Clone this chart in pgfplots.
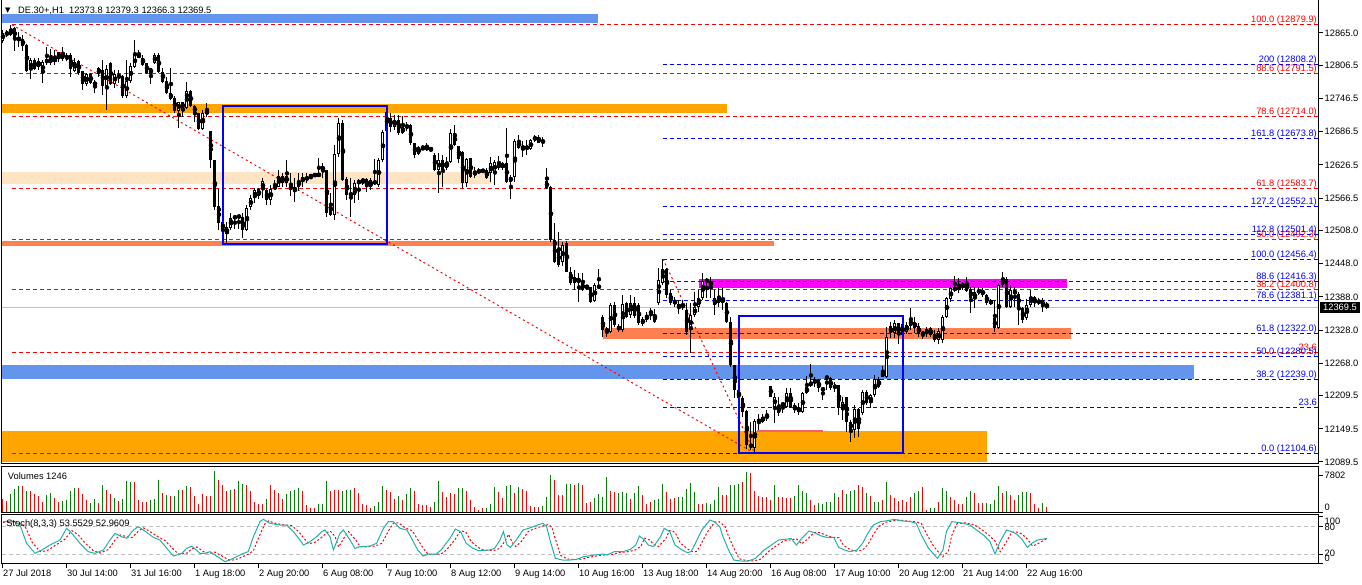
\documentclass[border=0pt]{standalone}
\usepackage{fontspec}
\setmainfont{Liberation Sans}
\newfontfamily\dejavu{DejaVu Sans}
\usepackage{pgfplots}
\usepackage{pgfplotstable}
\pgfplotsset{compat=1.18}

\definecolor{cfblue}{HTML}{6495ED}
\definecolor{mtorange}{HTML}{FFA500}
\definecolor{bisque}{HTML}{FFE4C4}
\definecolor{coral}{HTML}{FF7F50}
\definecolor{mtmag}{HTML}{FF00FF}
\definecolor{lsg}{HTML}{20B2AA}
\definecolor{mtgreen}{HTML}{008000}
\definecolor{fibblue}{HTML}{0000FF}
\definecolor{fibred}{HTML}{FF0000}
\definecolor{silver}{HTML}{C0C0C0}
\definecolor{pinkline}{HTML}{F4606E}

% label set with its digits centred dy above the tick
\newcommand{\lab}[2]{\smash{\raisebox{#1}{#2}}}

% hourly bars: open high low close volume up-volume flag
\pgfplotstableread{
o h l c v g
12851.1 12870.4 12846.9 12865.5 2873 0
12866.8 12870.4 12857.8 12861.4 2394 0
12861.4 12879.9 12859.6 12872.2 3899 1
12874.0 12876.4 12833.0 12854.1 4925 1
12856.5 12867.3 12840.2 12852.3 5609 1
12854.1 12861.4 12833.0 12842.0 5609 0
12843.8 12845.1 12794.5 12796.3 4446 1
12798.1 12819.8 12781.8 12816.2 4583 0
12816.2 12820.3 12798.1 12799.4 3899 0
12804.1 12820.3 12798.1 12814.4 3420 0
12792.7 12816.2 12774.6 12812.6 2189 0
12810.8 12840.2 12807.2 12818.0 3762 1
12811.3 12835.5 12807.2 12819.8 4104 1
12819.8 12834.3 12807.2 12812.6 3078 0
12818.5 12831.2 12812.0 12830.7 2189 0
12830.1 12840.2 12814.9 12818.0 2394 1
12818.0 12828.3 12814.9 12823.4 2599 1
12825.2 12828.3 12786.0 12799.4 4446 1
12796.8 12819.3 12795.0 12813.1 5130 1
12814.4 12816.2 12789.1 12793.2 5130 0
12796.3 12797.0 12762.0 12772.3 3899 0
12772.3 12792.7 12769.2 12790.9 2531 0
12790.3 12792.7 12772.8 12775.2 2052 1
12776.9 12780.0 12757.1 12769.7 2736 1
12802.3 12804.1 12786.0 12790.3 2052 0
12798.1 12816.2 12752.9 12769.7 5814 1
12769.2 12807.2 12725.8 12799.9 4788 0
12811.3 12812.6 12771.0 12772.3 3899 0
12772.8 12798.1 12766.1 12790.9 3078 1
12784.9 12798.1 12774.0 12789.1 2394 0
12787.3 12789.1 12747.5 12751.1 2873 1
12751.1 12816.2 12747.5 12778.2 6498 1
12778.2 12811.3 12774.0 12805.3 6293 1
12804.1 12852.3 12801.2 12825.2 6293 0
12820.3 12834.3 12819.3 12827.0 2531 0
12820.3 12825.2 12806.2 12807.2 2189 0
12810.8 12811.7 12790.3 12792.2 2189 0
12790.9 12802.6 12772.3 12801.7 2599 1
12810.2 12829.4 12808.4 12825.2 2736 1
12825.2 12828.3 12793.2 12795.0 6703 1
12795.0 12801.2 12775.2 12776.9 4104 0
12778.2 12786.0 12754.7 12756.0 3762 1
12757.1 12801.7 12743.9 12745.1 3557 0
12748.0 12751.1 12719.8 12724.0 3557 1
12724.0 12740.8 12692.7 12740.3 4788 1
12740.3 12740.8 12712.6 12727.6 4788 0
12729.9 12776.9 12727.6 12760.2 5609 1
12760.2 12762.0 12730.7 12733.0 5335 0
12733.0 12734.8 12704.7 12720.9 3420 0
12720.4 12720.9 12689.7 12690.9 1847 0
12690.9 12725.8 12689.7 12720.9 3899 0
12720.4 12737.9 12713.7 12722.2 3557 0
12687.8 12688.5 12621.0 12635.4 3420 0
12635.4 12636.0 12545.0 12551.0 8550 1
12552.3 12583.0 12508.9 12521.5 6703 0
12523.3 12527.0 12490.8 12508.9 5814 0
12501.7 12523.9 12486.0 12514.3 4446 0
12512.5 12540.2 12508.9 12530.6 4788 1
12530.6 12534.2 12510.2 12533.3 4925 0
12532.4 12536.0 12510.7 12534.2 6498 1
12532.9 12539.6 12493.9 12508.9 6019 1
12508.9 12554.1 12507.1 12548.6 5814 0
12549.9 12572.2 12545.0 12567.3 4446 0
12566.7 12584.3 12557.1 12581.2 2189 0
12583.0 12584.8 12564.9 12570.3 1710 0
12581.2 12602.3 12566.2 12598.0 1710 0
12581.2 12583.0 12554.1 12563.1 2873 1
12563.1 12590.2 12554.1 12583.0 5814 0
12584.3 12599.3 12581.2 12587.1 4651 0
12587.1 12617.3 12586.1 12606.5 4104 0
12606.5 12611.4 12587.1 12594.4 2736 0
12594.4 12635.4 12587.1 12606.5 3899 1
12590.2 12611.4 12570.3 12581.2 4583 1
12587.1 12602.3 12560.0 12578.1 4788 1
12587.1 12611.4 12579.9 12598.0 5130 1
12596.2 12611.4 12587.1 12605.2 4446 0
12599.3 12611.4 12593.3 12605.2 1505 0
12605.6 12608.3 12600.5 12607.4 1026 0
12607.4 12611.4 12605.2 12609.2 889 0
12605.2 12638.5 12604.2 12611.9 1710 1
12624.6 12630.5 12602.3 12616.1 1710 1
12617.3 12618.0 12532.9 12539.1 6498 1
12557.7 12575.2 12534.2 12536.0 4446 0
12536.0 12662.5 12527.0 12646.3 4788 0
12646.3 12710.8 12641.4 12702.3 4651 0
12701.8 12707.7 12598.0 12599.3 4583 1
12601.1 12605.2 12563.1 12572.2 4651 1
12574.9 12602.3 12532.9 12572.2 4788 1
12572.2 12599.3 12557.1 12593.3 5130 0
12593.3 12600.5 12563.1 12598.0 4104 0
12596.2 12602.3 12590.2 12600.5 1710 0
12601.1 12602.3 12578.1 12587.1 1505 0
12587.1 12602.3 12581.2 12599.3 1026 0
12593.8 12637.2 12590.2 12596.5 1368 1
12590.2 12638.5 12587.1 12635.4 2189 1
12635.4 12689.7 12632.3 12686.6 5609 1
12722.2 12733.0 12686.0 12687.8 4788 0
12710.8 12719.8 12686.6 12695.6 4241 0
12695.6 12716.8 12689.7 12707.7 2873 0
12707.7 12716.8 12680.6 12683.7 3500 1
12683.7 12715.0 12682.4 12695.6 2712 0
12698.7 12704.1 12687.8 12693.3 3812 1
12698.7 12700.5 12662.5 12665.6 5058 1
12665.6 12666.1 12639.6 12644.5 4545 0
12645.7 12660.7 12644.5 12659.5 1759 0
12654.8 12662.5 12653.5 12658.4 1613 0
12655.7 12666.7 12652.2 12657.5 1613 0
12654.4 12657.7 12650.4 12656.2 1246 0
12644.5 12647.5 12616.1 12617.3 2126 1
12617.3 12647.5 12576.3 12635.4 6524 1
12635.4 12644.5 12587.1 12617.3 4325 0
12620.4 12641.4 12617.3 12632.3 3299 0
12632.3 12690.9 12629.4 12683.7 4178 0
12683.7 12698.7 12661.6 12662.5 3958 0
12660.7 12661.6 12629.4 12636.7 5058 1
12650.4 12651.7 12584.3 12593.3 5058 1
12593.3 12638.5 12587.1 12636.7 4545 0
12638.5 12639.4 12603.4 12605.2 2566 0
12608.3 12623.3 12602.3 12614.3 1100 0
12612.5 12620.4 12610.1 12617.3 660 0
12615.2 12618.6 12612.5 12617.0 880 0
12617.3 12620.4 12601.6 12602.3 1026 1
12612.5 12641.4 12596.2 12629.4 1759 1
12612.5 12635.4 12590.2 12632.3 5278 1
12629.4 12642.6 12617.3 12620.4 4325 0
12620.4 12632.3 12617.3 12629.4 3079 0
12630.5 12692.7 12593.3 12596.2 5424 1
12596.2 12608.3 12565.5 12605.2 5644 1
12605.2 12672.8 12596.2 12670.3 4178 0
12670.3 12680.6 12655.7 12656.6 5278 1
12659.5 12670.3 12641.4 12656.6 4911 0
12656.7 12671.6 12644.5 12658.6 4545 0
12654.8 12672.8 12653.5 12671.6 1466 0
12671.6 12680.6 12668.5 12677.5 1100 0
12677.5 12680.6 12665.6 12666.7 1100 0
12666.7 12677.5 12659.5 12671.6 1393 1
12597.5 12620.4 12583.4 12584.3 3299 1
12586.1 12588.4 12487.7 12490.8 7843 1
12490.8 12521.0 12448.7 12451.6 6744 0
12472.7 12505.8 12442.5 12445.6 3592 0
12451.0 12487.7 12443.8 12481.8 3592 0
12485.9 12489.0 12433.0 12433.5 5864 1
12433.5 12442.5 12409.4 12412.5 5864 1
12424.5 12436.6 12400.4 12412.5 5644 0
12412.5 12431.1 12379.3 12422.7 6231 1
12413.6 12431.1 12399.2 12400.4 5644 0
12405.5 12409.4 12400.4 12407.3 1979 0
12405.3 12406.4 12376.4 12379.3 2126 0
12380.5 12412.5 12379.3 12409.4 3079 1
12409.4 12438.4 12401.7 12403.5 3812 1
12351.0 12355.2 12316.0 12328.1 3299 1
12329.6 12334.1 12316.0 12325.0 7477 1
12325.0 12376.4 12322.1 12373.3 4471 0
12373.3 12378.7 12333.5 12337.2 4325 0
12335.3 12338.9 12324.5 12328.1 4032 1
12328.1 12391.4 12325.0 12375.1 4325 1
12376.4 12379.3 12349.3 12352.2 4178 1
12355.2 12391.4 12350.3 12376.4 2859 0
12376.4 12388.3 12349.3 12353.4 4178 1
12373.3 12376.4 12337.2 12340.2 5498 1
12339.0 12352.2 12335.3 12348.0 3592 0
12346.2 12361.2 12343.1 12355.2 1833 0
12357.0 12367.3 12346.2 12363.0 2126 0
12357.0 12365.5 12340.2 12343.1 2566 1
12376.4 12440.2 12373.3 12418.5 2859 1
12412.5 12456.4 12409.4 12437.8 6011 1
12437.8 12440.2 12385.9 12391.4 4325 0
12395.0 12400.4 12373.3 12376.9 2859 0
12379.6 12388.3 12370.2 12376.9 3079 0
12375.1 12382.3 12357.0 12367.9 3299 1
12369.7 12382.3 12364.3 12373.3 3299 1
12364.3 12376.4 12319.1 12325.0 4911 1
12328.1 12376.4 12286.5 12355.2 6157 1
12355.2 12397.3 12351.6 12369.7 4325 1
12369.7 12400.4 12361.2 12386.0 1833 0
12385.4 12430.6 12382.3 12417.2 1833 0
12415.8 12422.7 12385.4 12418.5 1979 1
12417.2 12424.5 12385.4 12406.4 1833 1
12373.3 12400.4 12355.2 12386.0 2566 1
12376.4 12403.5 12370.2 12388.3 5278 1
12386.0 12403.5 12364.3 12376.9 3592 0
12376.9 12379.3 12340.2 12343.1 3592 0
12343.1 12352.2 12261.7 12264.8 5644 1
12264.8 12265.5 12205.2 12219.7 5791 1
12219.7 12223.2 12198.0 12205.2 6011 1
12205.2 12208.8 12171.4 12180.4 6377 0
12181.7 12183.5 12113.0 12120.2 8430 1
12122.0 12162.4 12111.2 12116.1 8210 0
12114.8 12167.2 12104.6 12163.6 4545 0
12162.4 12176.3 12147.3 12165.4 3445 0
12162.4 12176.3 12159.4 12171.4 3299 0
12168.5 12183.5 12164.2 12174.5 3299 0
12226.9 12227.4 12206.5 12207.5 2566 0
12189.5 12213.7 12160.5 12207.5 5791 1
12177.5 12207.5 12172.6 12190.7 3299 0
12192.5 12198.5 12177.5 12195.6 3299 0
12189.5 12222.7 12186.6 12213.7 3079 0
12213.7 12222.7 12186.6 12189.5 3079 0
12192.5 12195.6 12177.5 12183.5 3445 1
12186.6 12195.6 12174.5 12180.4 5644 1
12180.4 12216.6 12177.5 12213.7 4545 1
12213.7 12245.0 12212.4 12225.6 4178 1
12227.4 12266.6 12225.6 12234.6 2712 0
12233.6 12243.7 12225.6 12237.7 1613 0
12237.7 12239.0 12216.6 12222.7 1979 1
12222.7 12225.6 12201.6 12219.7 1759 1
12240.8 12246.8 12219.7 12243.7 2126 1
12240.8 12242.6 12219.7 12222.7 2126 1
12222.7 12234.6 12216.6 12228.7 4178 1
12228.7 12229.5 12174.5 12186.6 3299 0
12183.5 12207.5 12165.4 12198.5 4765 0
12207.5 12208.0 12144.3 12162.4 3958 1
12162.4 12165.4 12126.2 12147.3 4545 1
12147.3 12192.5 12132.3 12184.7 4765 1
12184.7 12186.6 12135.2 12148.6 5791 0
12177.5 12219.7 12174.5 12216.6 5278 0
12216.6 12219.7 12192.5 12195.6 4178 1
12195.6 12212.4 12186.6 12210.6 3445 0
12210.6 12246.8 12207.5 12239.0 2126 1
12239.0 12242.6 12222.7 12225.6 2126 1
12252.7 12263.0 12242.6 12243.7 2712 0
12243.7 12334.1 12240.8 12316.0 6377 1
12335.3 12343.1 12313.1 12322.1 3592 0
12322.1 12346.2 12313.1 12340.2 3079 0
12340.2 12340.8 12302.8 12319.1 2346 0
12319.1 12344.4 12313.7 12338.9 2566 0
12325.0 12343.1 12320.9 12337.2 2126 0
12335.3 12367.3 12328.1 12346.2 3299 0
12343.1 12352.2 12322.1 12331.2 4178 1
12335.3 12340.2 12316.0 12320.9 4398 1
12323.2 12326.8 12312.4 12320.3 5278 0
12320.3 12333.0 12316.0 12330.5 513 0
12331.2 12333.0 12316.0 12319.1 880 1
12320.3 12328.1 12306.9 12310.0 880 1
12310.0 12331.2 12302.8 12326.8 2126 0
12310.0 12355.2 12304.1 12352.2 5058 1
12352.2 12388.3 12349.3 12385.4 4545 1
12383.6 12406.4 12379.3 12403.5 3215 0
12400.4 12425.7 12397.3 12404.6 2599 0
12402.2 12421.6 12394.5 12405.8 1710 0
12406.4 12415.4 12400.4 12411.3 1710 0
12412.5 12424.5 12397.3 12399.2 3215 1
12401.7 12406.4 12358.3 12385.4 4446 1
12383.6 12406.4 12367.3 12397.3 4104 0
12395.5 12405.3 12391.4 12400.4 1915 0
12400.4 12403.5 12388.3 12391.4 1915 0
12391.4 12393.2 12373.3 12377.5 2052 1
12380.5 12383.6 12373.3 12376.4 1710 1
12349.3 12382.3 12325.0 12331.2 2599 1
12331.2 12412.5 12329.4 12409.4 5609 1
12409.4 12433.5 12406.4 12419.8 4104 0
12419.8 12424.5 12367.3 12370.2 4446 1
12370.2 12409.4 12367.3 12400.4 3762 0
12392.6 12406.4 12370.2 12400.4 2599 0
12392.6 12397.3 12337.2 12370.2 3762 1
12367.3 12370.2 12340.2 12346.2 4309 1
12349.3 12383.6 12346.2 12373.3 4309 1
12373.3 12400.4 12370.2 12388.3 4104 0
12387.2 12389.6 12370.2 12376.4 1710 0
12376.4 12385.4 12373.3 12382.3 1026 0
12382.3 12385.4 12361.2 12370.2 1915 1
12373.8 12379.3 12366.3 12369.5 1246 0
}\bars

% Stoch(8,3,3): main line
\pgfplotstableread{
x k
0 89.3
2.6 90.7
4.25 82
5.9 43
8 21.4
9.7 28.6
11.75 39.3
14.25 50
15.9 75
17.2 64.3
19.25 42.9
21.3 25
23 21.4
25.1 28.6
26.75 50
28 64.3
29.7 57
30.9 53.6
32.6 71.4
33.8 78.6
35.1 71.4
37.6 55.7
39.25 50
41.3 28.6
42.6 15.7
44.7 21.4
45.9 32
47.2 37
49.25 21.4
50.5 21.4
51.75 25
54.25 10.7
55.5 3.6
57.6 10.7
60.1 21.4
61.3 25
62.6 57
64.25 89.3
65.1 94.3
66.75 85.7
69.25 82.1
70.9 82.1
72.6 67.9
74.25 50
75.1 39.3
76.75 46.4
78.4 57.1
79.7 67.9
80.5 71.4
81.75 57.1
82.6 28.6
84.25 64.3
85.1 71.4
86.75 50
88 32.1
89.25 35.7
91.75 37.1
93.4 42.9
95.1 75
96.3 89.3
97.6 89.3
99.25 75
101 71.4
103.7 28.6
105 15.7
106.4 20
108.2 19.3
109.5 28.6
111.75 53.6
113.1 73.6
114.4 67.9
115.8 42.9
117.5 32.1
118.9 27.1
121.6 28.6
122.9 32.1
124.25 50
125.1 67.9
126 39.3
126.9 34.3
128.3 50
130 71.4
131.4 75
133.6 82.1
135 85.7
135.9 78.6
136.75 50
138.1 10.7
139.9 7.1
141.7 7.1
143.4 8.6
145.2 14.3
147.9 17.9
150.1 20
151 17.9
152.8 25
155 25
156.85 30
158.2 39.3
159.1 58.6
160.4 50
161.3 39.3
162.6 35.7
164.4 57.1
165.3 75
166.7 67.9
168 39.3
169.8 28.6
171.1 22.9
172 25
172.9 39.3
174.7 71.4
176.75 92.9
177.8 89.3
179.2 78.6
180 57.1
181.4 28.6
182.7 7.1
184.5 5
186.3 5
188.1 10.7
189 17.9
190.3 28.6
192.1 39.3
193.9 50
196.1 52.1
197 53.6
198.35 39.3
199.7 53.6
201.5 69.3
202.8 65.7
204.6 58.6
206 55.7
207.7 55.7
208.9 34.3
210.4 28.6
211.75 25
213.5 28.6
214.9 42.9
216.2 64.3
217.6 82.1
219.35 89.3
221.1 91.4
222.9 94.3
224.25 91.4
226.9 89.3
228.3 85.7
229.6 60.7
231.4 32.1
233.6 10.7
235 28.6
235.85 67.9
237.2 89.3
239.25 87.1
241.75 82.1
243.4 71.4
245.1 60.7
246.75 46.4
248 20
249.25 46.4
250.9 71.4
252.2 67.9
253.4 62.9
254.7 52.1
256.1 34.3
257.2 42.9
258.6 50
260.1 52.1
261 53.55
}\stochk

% signal line
\pgfplotstableread{
x d
0 88
3.5 89
5.5 80
7.3 45
9.3 25
11 27
13 38
15.5 52
17.2 70
18.7 62
20.6 43
22.6 27
24.3 22
26.4 30
28 50
29.3 61
31 57
32.2 55
34 70
35.1 76
36.4 70
38.9 56
40.5 49
42.6 30
44 19
46 22
47.2 31
48.5 35
50.5 23
51.8 22
53 24
55.5 12
56.8 6
58.9 10
61.4 20
62.6 27
63.9 55
65.5 85
66.4 91
68 86
70.5 82
72.2 81
73.9 68
75.5 51
76.4 42
78 45
79.7 56
81 66
81.8 69
83 58
83.9 35
85.5 58
86.4 68
88 52
89.3 36
90.5 35
93 37
94.7 43
96.4 70
97.6 86
98.9 87
100.5 76
102.3 70
105 33
106.3 19
107.7 19
109.5 20
110.8 28
113 51
114.4 70
115.7 67
117.1 46
118.8 34
120.2 28
122.9 28
124.2 32
125.5 48
126.4 62
127.3 45
128.2 36
129.6 47
131.3 68
132.7 74
134.9 80
136.3 83
137.2 78
138 55
139.4 17
141.2 9
143 8
144.7 9
146.5 13
149.2 17
151.4 19
152.3 19
154.1 23
156.3 25
158.2 29
159.5 37
160.4 54
161.7 50
162.6 41
163.9 36
165.7 53
166.6 70
168 67
169.3 44
171.1 31
172.4 25
173.3 25
174.2 36
176 66
178 89
179.1 89
180.5 79
181.3 60
182.7 33
184 10
185.8 6
187.6 5
189.4 9
190.3 16
191.6 27
193.4 38
195.2 48
197.4 51
198.3 53
199.7 42
201 51
202.8 66
204.1 66
205.9 60
207.3 56
209 55
210.2 38
211.7 30
213 26
214.8 28
216.2 40
217.5 60
218.9 79
220.7 88
222.4 91
224.2 93
225.6 91
228.2 89
229.6 85
230.9 63
232.7 36
234.9 14
236.3 25
237.2 60
238.5 85
240.6 87
243 82
244.7 72
246.4 61
248 48
249.3 25
250.6 42
252.2 67
253.5 67
254.7 63
256 53
257.4 37
258.5 41
259.9 48
261 52.96
}\stochd

\begin{document}
\fontsize{9.3}{10}\selectfont
\begin{tikzpicture}[x=1pt,y=1pt]
\pgfplotsset{
  mt/.style={scale only axis, width=1317pt, xmin=-0.25, xmax=329,
    anchor=south west, axis on top,
    axis line style={line width=1pt, black},
    tick style={line width=1pt, black},
    major tick length=4pt, tick align=outside,
    ytick pos=right, yticklabel pos=right, xtick=\empty,
    scaled y ticks=false,
    every tick label/.append style={font=\fontsize{9.3}{10}\selectfont},
    yticklabel style={anchor=west, inner sep=1.5pt},
    /pgf/number format/assume math mode=true},
  cndl/.style={only marks, mark=none, forget plot,
    error bars/.cd, y dir=both, y explicit, error mark=none,
    error bar style={#1}},
}

% ---------------- price panel
\begin{axis}[mt, at={(2pt,121pt)}, height=464pt,
  ymin=12085.88, ymax=12924.65,
  ytick={12089.5,12149.5,12209.5,12268.0,12328.0,12388.0,12448.0,12508.0,12566.5,12626.5,12686.5,12746.5,12806.5,12865.0},
  yticklabel style={/pgf/number format/fixed, /pgf/number format/fixed zerofill,
    /pgf/number format/precision=1, /pgf/number format/1000 sep={}}]

% zones
\addplot[fill=cfblue, draw=none] coordinates {(-0.25,12899.3) (148.75,12899.3) (148.75,12883.6) (-0.25,12883.6)};
\addplot[fill=mtorange, draw=none] coordinates {(-0.25,12736.6) (181,12736.6) (181,12720.9) (-0.25,12720.9)};
\addplot[fill=bisque, draw=none] coordinates {(-0.25,12613.7) (121.9,12613.7) (121.9,12592.0) (-0.25,12592.0)};
\addplot[fill=coral, draw=none] coordinates {(-0.25,12489.5) (192.75,12489.5) (192.75,12480.0) (-0.25,12480.0)};
\addplot[fill=mtmag, draw=none] coordinates {(174,12420.3) (266,12420.3) (266,12404.0) (174,12404.0)};
\addplot[fill=coral, draw=none] coordinates {(150,12331.7) (267,12331.7) (267,12311.8) (150,12311.8)};
\addplot[fill=cfblue, draw=none] coordinates {(-0.25,12264.8) (297.75,12264.8) (297.75,12239.5) (-0.25,12239.5)};
\addplot[fill=mtorange, draw=none] coordinates {(-0.25,12145.5) (246,12145.5) (246,12090.0) (-0.25,12090.0)};

% current price
\addplot[silver, line width=1pt] coordinates {(-0.25,12369.5) (329,12369.5)};

% fibo levels, first grid (red)
\foreach \p in {12879.9,12791.5,12714.0,12583.7,12492.3,12400.8,12287.6,12104.6}{
  \addplot[fibred, line width=1pt, dash pattern=on 4pt off 3pt] coordinates {(2.25,\p) (329,\p)};
}
% fibo levels, second grid (blue)
\foreach \p in {12808.2,12673.8,12552.1,12501.4,12456.4,12416.3,12381.1,12322.0,12280.5,12239.0,12187.6,12104.6}{
  \addplot[fibblue, line width=1pt, dash pattern=on 4pt off 3pt] coordinates {(165,\p) (329,\p)};
}

% trend lines of the two grids
\addplot[fibred, line width=1pt, dash pattern=on 2pt off 3pt] coordinates {(2.25,12879.9) (188,12104.6)};
\addplot[fibred, line width=1pt, dash pattern=on 2pt off 3pt] coordinates {(165,12456.4) (188,12104.6)};
\addplot[pinkline, line width=2pt] coordinates {(188.5,12145.5) (204.9,12145.5)};

% candles: wicks, bodies, hollow part of rising bodies
\addplot[cndl={line width=1pt, black}] table[x expr=\coordindex, y expr={(\thisrow{h}+\thisrow{l})/2},
  y error expr={(\thisrow{h}-\thisrow{l})/2}] {\bars};
\addplot[cndl={line width=3pt, black}]
  table[x expr=\coordindex, y expr={(\thisrow{o}+\thisrow{c})/2},
  y error expr={max(abs(\thisrow{o}-\thisrow{c})/2,0.9)}] {\bars};
\addplot[cndl={line width=1pt, white}]
  table[x expr=\coordindex, y expr={(\thisrow{o}+\thisrow{c})/2},
  y error expr={(\thisrow{c}>\thisrow{o})*max(abs(\thisrow{c}-\thisrow{o})/2-1.8,0)}] {\bars};

% rectangles
\addplot[fibblue, line width=2pt, line cap=rect] coordinates {(54.9,12733.6) (96,12733.6) (96,12484.1) (54.9,12484.1) (54.9,12733.6)};
\addplot[fibblue, line width=2pt, line cap=rect] coordinates {(184,12353.4) (224.9,12353.4) (224.9,12105.2) (184,12105.2) (184,12353.4)};

% level labels
\begin{scope}[every node/.style={anchor=base east, inner sep=0pt, yshift=2pt}]
\node[text=fibred] at (axis cs:328.5,12879.9) {100.0 (12879.9)};
\node[text=fibred] at (axis cs:328.5,12791.5) {88.6 (12791.5)};
\node[text=fibred] at (axis cs:328.5,12714.0) {78.6 (12714.0)};
\node[text=fibred] at (axis cs:328.5,12583.7) {61.8 (12583.7)};
\node[text=fibred] at (axis cs:328.5,12492.3) {50.0 (12492.3)};
\node[text=fibred] at (axis cs:328.5,12400.8) {38.2 (12400.8)};
\node[text=fibred] at (axis cs:328.5,12287.6) {23.6};
\node[text=fibblue] at (axis cs:328.5,12808.2) {200 (12808.2)};
\node[text=fibblue] at (axis cs:328.5,12673.8) {161.8 (12673.8)};
\node[text=fibblue] at (axis cs:328.5,12552.1) {127.2 (12552.1)};
\node[text=fibblue] at (axis cs:328.5,12501.4) {112.8 (12501.4)};
\node[text=fibblue] at (axis cs:328.5,12456.4) {100.0 (12456.4)};
\node[text=fibblue] at (axis cs:328.5,12416.3) {88.6 (12416.3)};
\node[text=fibblue] at (axis cs:328.5,12381.1) {78.6 (12381.1)};
\node[text=fibblue] at (axis cs:328.5,12322.0) {61.8 (12322.0)};
\node[text=fibblue] at (axis cs:328.5,12280.5) {50.0 (12280.5)};
\node[text=fibblue] at (axis cs:328.5,12239.0) {38.2 (12239.0)};
\node[text=fibblue] at (axis cs:328.5,12187.6) {23.6};
\node[text=fibblue] at (axis cs:328.5,12104.6) {0.0 (12104.6)};
\end{scope}
\end{axis}

% ---------------- volume panel
\begin{axis}[mt, at={(2pt,72.3pt)}, height=46pt, ymin=0, ymax=9522,
  ytick={0,7802}, yticklabels={\lab{2.4pt}{0},\lab{-3.3pt}{7802}}]
\addplot[ycomb, mtgreen, line width=1pt, mark=none]
  table[x expr=\coordindex, y expr={\thisrow{g}*\thisrow{v}}] {\bars};
\addplot[ycomb, fibred, line width=1pt, mark=none]
  table[x expr=\coordindex, y expr={(1-\thisrow{g})*\thisrow{v}}] {\bars};
\node[anchor=west, inner sep=0pt] at (axis cs:1.2,7650) {Volumes 1246};
\end{axis}

% ---------------- stochastic panel
\begin{axis}[mt, at={(2pt,21pt)}, height=49pt, ymin=-1.4, ymax=103.6,
  ytick={0,20,80,100},
  yticklabels={\lab{2pt}{0},\lab{-2.3pt}{20},\lab{-4.3pt}{80},\lab{-8pt}{100}},
  xtick={0,16,...,256}, xtick pos=bottom,
  xticklabels={27 Jul 2018,30 Jul 14:00,31 Jul 16:00,1 Aug 18:00,2 Aug 20:00,6 Aug 08:00,7 Aug 10:00,8 Aug 12:00,9 Aug 14:00,10 Aug 16:00,13 Aug 18:00,14 Aug 20:00,16 Aug 08:00,17 Aug 10:00,20 Aug 12:00,21 Aug 14:00,22 Aug 16:00},
  xticklabel style={anchor=north west, inner sep=0pt, yshift=-2pt}]
\addplot[silver, line width=1pt, dash pattern=on 4pt off 3pt] coordinates {(-0.25,80) (329,80)};
\addplot[silver, line width=1pt, dash pattern=on 4pt off 3pt] coordinates {(-0.25,20) (329,20)};
\addplot[fibred, line width=1pt, dash pattern=on 2pt off 2pt] table[x=x, y=d] {\stochd};
\addplot[lsg, line width=1pt] table[x=x, y=k] {\stochk};
\node[anchor=west, inner sep=0pt] at (axis cs:0.8,85) {Stoch(8,3,3) 53.5529 52.9609};
\end{axis}

% header and price tag
\node[anchor=west, inner sep=0pt, font=\dejavu\fontsize{7}{7}\selectfont] at (5,574.3) {▼};
\node[anchor=west, inner sep=0pt] at (18,574.3) {DE.30+,H1\ \ 12373.8 12379.3 12366.3 12369.5};
\node[anchor=west, fill=black, text=white, inner xsep=3pt, inner ysep=2pt] at (1320,277.5) {12369.5};

\pgfresetboundingbox
\path (0,0) rectangle (1362,585);
\end{tikzpicture}
\end{document}
